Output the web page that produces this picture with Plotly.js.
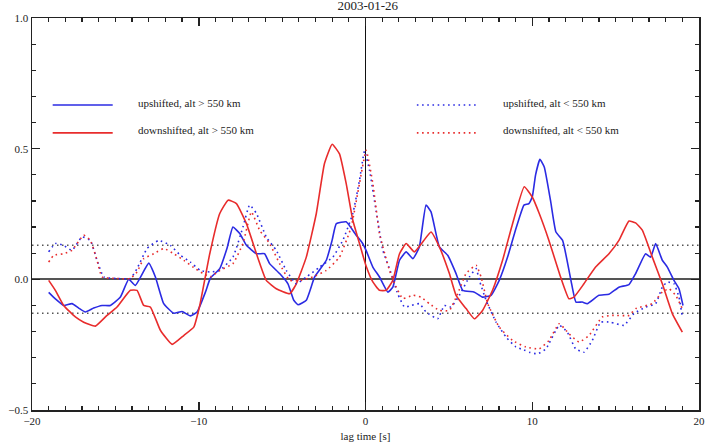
<!DOCTYPE html>
<html>
<head>
<meta charset="utf-8">
<script src="https://cdn.plot.ly/plotly-3.0.1.min.js"></script>
<style>html,body{margin:0;padding:0;background:#fff;}#chart{width:710px;height:444px;}</style>
</head>
<body>
<div id="chart"></div>
<script>
// upshifted, alt > 550 km (solid blue)
var upHiX = [-19.0,-18.6,-18.1,-17.6,-17.2,-16.8,-16.3,-15.8,-15.3,-14.7,-14.2,-13.8,-13.0,-12.6,-12.1,-11.5,-11.0,-10.5,-10.1,-9.6,-9.3,-8.74,-8.3,-7.95,-7.54,-7.14,-6.54,-6.05,-5.75,-5.15,-4.65,-4.3,-4.05,-3.55,-3.05,-2.35,-2.0,-1.75,-1.16,-0.56,-0.2,0.04,0.44,0.84,1.34,1.64,2.04,2.44,2.84,3.23,3.63,3.93,4.43,4.93,5.43,5.83,6.53,7.02,7.53,8.02,8.52,9.0,9.25,9.5,9.8,10.0,10.2,10.46,10.72,11.1,11.42,11.82,12.32,12.62,13.0,13.3,14.0,14.6,15.2,15.8,16.2,16.8,17.1,17.4,17.8,18.1,18.5,18.8,19.04];
var upHiY = [-0.05,-0.075,-0.10,-0.093,-0.11,-0.125,-0.11,-0.10,-0.10,-0.068,0.0,-0.023,0.062,0.009,-0.093,-0.13,-0.123,-0.14,-0.125,-0.049,0.005,0.041,0.12,0.20,0.175,0.13,0.098,0.098,0.06,0.022,-0.017,-0.08,-0.097,-0.08,0.009,0.073,0.15,0.213,0.22,0.169,0.14,0.11,0.047,0.009,-0.049,-0.03,0.073,0.105,0.079,0.124,0.284,0.258,0.124,0.092,0.022,-0.042,-0.049,-0.068,-0.061,-0.004,0.085,0.19,0.24,0.284,0.29,0.315,0.40,0.459,0.43,0.30,0.181,0.149,-0.004,-0.087,-0.087,-0.093,-0.061,-0.057,-0.03,-0.02,0.022,0.098,0.085,0.137,0.073,0.047,-0.004,-0.036,-0.10];

// downshifted, alt > 550 km (solid red)
var dnHiX = [-19.0,-18.6,-18.1,-17.4,-16.9,-16.2,-15.5,-14.9,-14.1,-13.7,-13.3,-12.9,-12.3,-11.6,-10.9,-10.3,-9.94,-9.34,-8.74,-8.24,-7.74,-7.14,-6.54,-5.95,-5.35,-4.55,-4.15,-3.55,-2.95,-2.46,-2.0,-1.56,-1.16,-0.76,-0.36,0.04,0.44,0.84,1.24,1.64,2.04,2.44,2.93,3.43,3.93,4.43,5.03,5.43,6.03,6.53,7.02,7.62,8.22,8.82,9.52,10.0,10.42,11.0,11.7,12.2,12.5,13.1,13.8,14.6,15.2,15.8,16.2,16.6,17.2,17.8,18.4,19.0];
var dnHiY = [-0.004,-0.042,-0.10,-0.144,-0.164,-0.179,-0.138,-0.106,-0.042,-0.042,-0.10,-0.106,-0.195,-0.249,-0.215,-0.183,-0.10,0.098,0.252,0.303,0.29,0.213,0.098,-0.004,-0.036,-0.055,-0.017,0.085,0.252,0.443,0.517,0.48,0.367,0.226,0.137,0.05,-0.01,-0.042,-0.042,-0.004,0.098,0.137,0.105,0.143,0.181,0.124,0.022,-0.061,-0.112,-0.151,-0.119,-0.042,0.073,0.213,0.354,0.315,0.252,0.149,0.009,-0.074,-0.068,-0.017,0.047,0.098,0.149,0.223,0.216,0.188,0.085,-0.017,-0.131,-0.202];

// upshifted, alt < 550 km (dotted blue)
var upLoX = [-19.0,-18.6,-18.1,-17.6,-17.0,-16.5,-16.1,-15.7,-14.9,-14.1,-13.7,-13.1,-12.4,-11.7,-11.1,-10.5,-9.9,-9.3,-8.74,-7.95,-7.35,-6.95,-6.54,-5.95,-5.35,-4.75,-4.15,-3.55,-2.75,-1.96,-1.36,-0.76,-0.36,-0.06,0.24,0.64,1.04,1.54,1.93,2.34,2.74,3.23,3.63,4.33,4.73,5.13,5.63,6.23,6.63,6.83,7.23,7.83,8.43,9.02,9.5,9.82,10.32,10.82,11.62,12.1,12.6,13.1,13.6,14.1,14.7,15.5,16.1,16.8,17.4,17.8,18.1,18.5,18.8,19.0];
var upLoY = [0.105,0.137,0.13,0.111,0.162,0.149,0.073,0.009,0.003,0.003,0.041,0.118,0.149,0.13,0.092,0.066,0.034,0.028,0.034,0.085,0.20,0.284,0.252,0.162,0.111,0.034,-0.017,0.009,0.047,0.085,0.149,0.252,0.379,0.49,0.418,0.26,0.111,0.022,-0.055,-0.106,-0.10,-0.093,-0.125,-0.151,-0.10,-0.106,-0.061,0.009,0.041,-0.004,-0.08,-0.164,-0.221,-0.259,-0.27,-0.279,-0.285,-0.266,-0.176,-0.202,-0.266,-0.279,-0.234,-0.164,-0.164,-0.176,-0.131,-0.106,-0.093,-0.03,-0.01,-0.017,-0.068,-0.144];

// downshifted, alt < 550 km (dotted red)
var dnLoX = [-19.0,-18.7,-18.1,-17.6,-16.9,-16.5,-16.1,-15.8,-14.9,-14.1,-13.7,-13.3,-12.7,-12.1,-11.5,-10.9,-10.3,-9.74,-9.3,-8.74,-7.95,-7.35,-6.84,-6.35,-5.75,-5.15,-4.55,-3.9,-3.16,-2.35,-1.56,-0.86,-0.36,0.04,0.44,0.84,1.44,1.84,2.24,2.84,3.33,3.83,4.43,5.03,5.53,6.03,6.63,6.93,7.33,8.02,8.82,9.62,10.42,11.0,11.62,12.2,12.8,13.4,14.2,14.8,15.8,16.2,17.2,17.8,18.2,18.6,19.0];
var dnLoY = [0.066,0.092,0.098,0.111,0.169,0.149,0.073,0.009,0.003,0.003,0.028,0.079,0.098,0.118,0.098,0.073,0.045,0.022,0.01,0.034,0.06,0.137,0.258,0.188,0.137,0.06,-0.004,-0.004,0.009,0.034,0.085,0.20,0.367,0.494,0.367,0.175,0.034,-0.03,-0.074,-0.061,-0.068,-0.093,-0.119,-0.119,-0.055,0.022,0.054,0.009,-0.093,-0.183,-0.234,-0.259,-0.266,-0.234,-0.17,-0.208,-0.24,-0.215,-0.144,-0.138,-0.138,-0.112,-0.093,-0.049,-0.036,-0.061,-0.112];

var seriesNames = ['upshifted, alt > 550 km','downshifted, alt > 550 km','upshifted, alt < 550 km','downshifted, alt < 550 km'];
var threshold = [0.13,-0.13];
var titleText = '2003-01-26';
var xTitle = 'lag time [s]';

var cBlue = '#2b2be3', cRed = '#e82c2c';
var serifFam = 'Liberation Serif';
var dotPattern = '1.6px,3.6px';

var traces = [
  {x: upHiX, y: upHiY, name: seriesNames[0], mode: 'lines', line: {color: cBlue, width: 1.6, shape: 'spline', smoothing: 0.4}},
  {x: dnHiX, y: dnHiY, name: seriesNames[1], mode: 'lines', line: {color: cRed, width: 1.6, shape: 'spline', smoothing: 0.4}},
  {x: upLoX, y: upLoY, name: seriesNames[2], mode: 'lines', line: {color: cBlue, width: 1.6, dash: dotPattern, shape: 'spline', smoothing: 0.4}},
  {x: dnLoX, y: dnLoY, name: seriesNames[3], mode: 'lines', line: {color: cRed, width: 1.6, dash: dotPattern, shape: 'spline', smoothing: 0.4}}
];

var shapeList = [];
threshold.forEach(function (t) {
  shapeList.push({type: 'line', xref: 'paper', yref: 'y', x0: 0, x1: 1, y0: t, y1: t,
    line: {color: '#555', width: 1.5, dash: '1.5px,3.5px'}, layer: 'below'});
});
var legPos = [
  {x0: 0.031, x1: 0.121, y: 0.778, tx: 0.156, ty: 0.782, color: cBlue, dash: 'solid'},
  {x0: 0.031, x1: 0.121, y: 0.707, tx: 0.156, ty: 0.714, color: cRed, dash: 'solid'},
  {x0: 0.577, x1: 0.669, y: 0.778, tx: 0.703, ty: 0.782, color: cBlue, dash: dotPattern},
  {x0: 0.577, x1: 0.669, y: 0.707, tx: 0.703, ty: 0.714, color: cRed, dash: dotPattern}
];
var annList = [];
legPos.forEach(function (p, i) {
  shapeList.push({type: 'line', xref: 'paper', yref: 'paper', x0: p.x0, x1: p.x1, y0: p.y, y1: p.y,
    line: {color: p.color, width: 1.6, dash: p.dash}});
  annList.push({xref: 'paper', yref: 'paper', x: p.tx, y: p.ty, xanchor: 'left', yanchor: 'middle',
    text: seriesNames[i], showarrow: false, font: {family: serifFam, size: 11, color: '#222'}});
});

var plotLayout = {
  width: 710, height: 444,
  margin: {l: 32, r: 11, t: 18, b: 34},
  showlegend: false,
  font: {family: serifFam, size: 11, color: '#222'},
  title: {text: titleText, x: 0.518, xanchor: 'center', y: 0.997, yanchor: 'top', font: {family: serifFam, size: 13, color: '#222'}},
  xaxis: {
    range: [-20, 20], dtick: 10,
    ticks: 'inside', ticklen: 8, tickwidth: 1.5, tickcolor: '#222',
    minor: {dtick: 1, ticks: 'inside', ticklen: 4, tickwidth: 1.2, tickcolor: '#222'},
    showline: true, linecolor: '#222', linewidth: 1.5, mirror: 'allticks',
    showgrid: false, zeroline: true, zerolinecolor: '#111', zerolinewidth: 1.5,
    tickfont: {family: serifFam, size: 11, color: '#222'},
    title: {text: xTitle, standoff: 6, font: {family: serifFam, size: 11, color: '#222'}}
  },
  yaxis: {
    range: [-0.5, 1.0], dtick: 0.5, tickformat: '.1f',
    ticks: 'inside', ticklen: 8, tickwidth: 1.5, tickcolor: '#222',
    minor: {dtick: 0.1, ticks: 'inside', ticklen: 4, tickwidth: 1.2, tickcolor: '#222'},
    showline: true, linecolor: '#222', linewidth: 1.5, mirror: 'allticks',
    showgrid: false, zeroline: true, zerolinecolor: '#555', zerolinewidth: 2,
    tickfont: {family: serifFam, size: 11, color: '#222'}
  },
  shapes: shapeList,
  annotations: annList
};

Plotly.newPlot('chart', traces, plotLayout, {staticPlot: true});
</script>
</body>
</html>
